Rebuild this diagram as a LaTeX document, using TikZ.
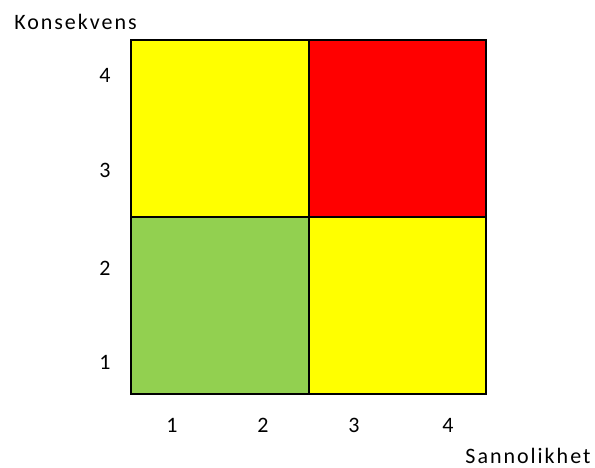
\documentclass[tikz,border=0pt]{standalone}
\usepackage{fontspec}
\setmainfont[LetterSpace=9]{Carlito}
\definecolor{rgreen}{HTML}{92D050}
\definecolor{ryellow}{HTML}{FFFF00}
\definecolor{rred}{HTML}{FF0000}
\begin{document}
\begin{tikzpicture}[x=1pt,y=-1pt,
  cell/.style={draw=black,line width=1.5pt},
  lab/.style={font=\fontsize{22}{25}\selectfont,anchor=base,inner sep=0pt}]
\useasboundingbox (0,0) rectangle (595,467);
\fill[ryellow] (131,40) rectangle (309,217);
\fill[rred] (309,40) rectangle (486,217);
\fill[rgreen] (131,217) rectangle (309,394);
\fill[ryellow] (309,217) rectangle (486,394);
\draw[cell] (131,40) rectangle (486,394);
\draw[cell] (309,40) -- (309,394);
\draw[cell] (131,217) -- (486,217);
\node[lab] (ky) at (75.5,29.5) {Konsekvens};
\node[lab] (y4) at (105,82) {4};
\node[lab] (y3) at (105,177) {3};
\node[lab] (y2) at (105,275) {2};
\node[lab] (y1) at (105,369) {1};
\node[lab] (x1) at (172,432) {1};
\node[lab] (x2) at (263,432) {2};
\node[lab] (x3) at (354,432) {3};
\node[lab] (x4) at (448,432) {4};
\node[lab] (sx) at (528,463) {Sannolikhet};
\end{tikzpicture}
\end{document}
